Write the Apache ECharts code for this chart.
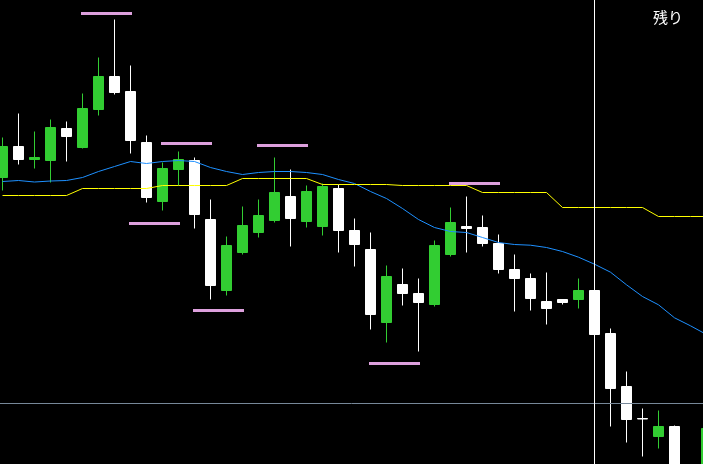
<!DOCTYPE html>
<html>
<head>
<meta charset="utf-8">
<script src="https://cdn.jsdelivr.net/npm/echarts@6/dist/echarts.min.js"></script>
<style>
html,body{margin:0;padding:0;background:#000;}
#chart{width:703px;height:464px;}
</style>
</head>
<body>
<div id="chart"></div>
<script>
// Bar index (time order)
const bars = Array.from({length: 45}, (_, i) => String(i + 1));

// OHLC (arbitrary price units)
const opens  = [287,318,305,304,336,317,355,388,373,322,263,295,304,245,174,212,232,244,268,243,238,276,234,215,142,180,171,160,210,238,237,221,195,186,163,165,165,174,131,78,46,28,38,-20,-30];
const closes = [318,305,307,337,328,356,388,372,324,267,296,305,250,179,219,239,249,272,246,273,278,234,220,150,188,171,162,219,242,236,221,195,186,166,156,162,174,130,76,45,45.5,38,-6,-45,36];
const highs  = [327,351,333,345,343,371,407,445,399,329,302,313,307,265,228,258,265,307,295,279,281,280,246,232,199,196,186,224,257,268,249,230,210,191,192,165,186,179,136,93,56,54,39,-8,36];
const lows   = [274,300,296,282,303,316,349,370,311,262,254,279,236,165,169,210,227,242,218,237,229,212,198,135,122,159,113,158,208,212,218,191,153,154,140,160,156,124,38,22,8,16,-16,-60,-40];

// Moving averages
const blueMA   = [283,284,282.5,283.5,284,287,293,298,303,301,303,304,303,297,293,290,292,293,293,292,290,285,281,273,266,256,245,237,233,232,227,222,220,219.3,217,213,207.3,200.3,192.3,179.7,168,159.7,146.7,138.7,130];
const yellowMA = [269,269,269,269,269,276,276,276,276,276,279,279,279,279,279,286,286,286,286,286,280,280,280,280,280,279,279,279,279,279,272,272,272,272,272,257,257,257,257,257,257,248,248,248,248];

// Pink level segments: first bar, last bar, level
const pinkStart = [5, 10, 8, 12, 16, 23, 28];
const pinkEnd   = [8, 13, 11, 15, 19, 26, 31];
const pinkLevel = [451, 321, 241, 154, 319, 101, 281];

// Reference lines
const hLineLevel = 61;
const vLineBar = 37;

const UP = '#32CD32', DOWN = '#FFFFFF';

const ohlc = bars.map((_, i) => [opens[i], closes[i], lows[i], highs[i]]);

const pinkSeries = pinkStart.map((s, j) => ({
  type: 'line',
  data: bars.map((_, k) => (k >= s && k <= pinkEnd[j]) ? pinkLevel[j] : null),
  symbol: 'none',
  connectNulls: false,
  lineStyle: {color: '#DDA0DD', width: 3, cap: 'square'},
  z: 4,
  silent: true
}));

const chart = echarts.init(document.getElementById('chart'), null, {renderer: 'canvas'});
chart.setOption({
  animation: false,
  backgroundColor: '#000000',
  grid: {left: -5.5, top: 0, width: 720, height: 464, containLabel: false, outerBoundsMode: 'none'},
  xAxis: {
    type: 'category', data: bars, boundaryGap: true,
    axisLine: {show: false}, axisTick: {show: false}, axisLabel: {show: false}, splitLine: {show: false}
  },
  yAxis: {
    type: 'value', min: 0.5, max: 464.5, scale: false,
    axisLine: {show: false}, axisTick: {show: false}, axisLabel: {show: false}, splitLine: {show: false}
  },
  graphic: [{
    type: 'text', left: 653, top: 10,
    style: {text: '残り', fill: '#ffffff', font: '15px "Noto Sans CJK JP"'}
  }],
  series: [
    {
      type: 'line', data: [], z: 1, silent: true,
      markLine: {
        silent: true, symbol: 'none', label: {show: false},
        lineStyle: {color: '#778899', width: 1, type: 'solid'},
        data: [{yAxis: hLineLevel}]
      }
    },
    {
      type: 'candlestick', data: ohlc, barWidth: 10, z: 2,
      itemStyle: {color: UP, color0: DOWN, borderColor: UP, borderColor0: DOWN, borderWidth: 1}
    },
    {
      type: 'line', data: blueMA, symbol: 'none', z: 3, silent: true,
      lineStyle: {color: '#1E90FF', width: 1}
    },
    {
      type: 'line', data: yellowMA, symbol: 'none', z: 3, silent: true,
      lineStyle: {color: '#FFFF00', width: 1}
    },
    ...pinkSeries,
    {
      type: 'line', data: [], z: 5, silent: true,
      markLine: {
        silent: true, symbol: 'none', label: {show: false},
        lineStyle: {color: '#FFFFFF', width: 1, type: 'solid'},
        data: [{xAxis: vLineBar}]
      }
    }
  ]
});
</script>
</body>
</html>
